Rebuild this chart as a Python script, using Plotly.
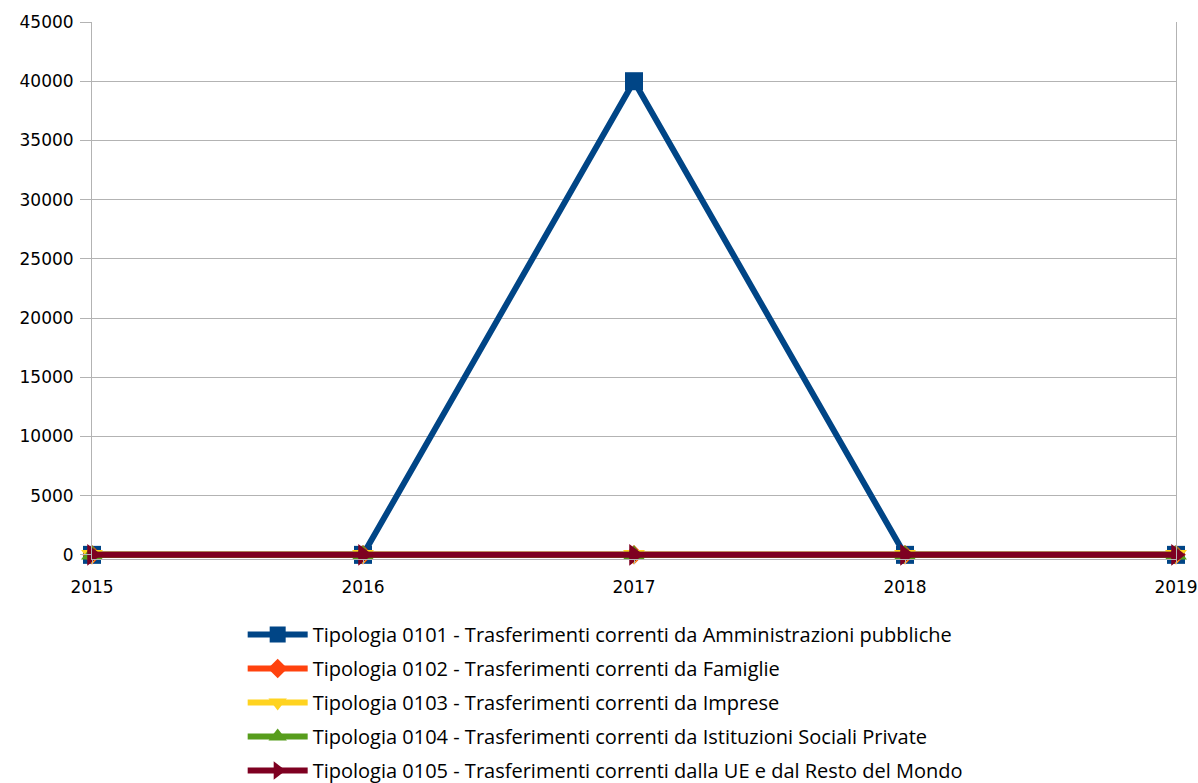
import plotly.graph_objects as go

years = ["2015", "2016", "2017", "2018", "2019"]
series_names = [
    "Tipologia 0101 - Trasferimenti correnti da Amministrazioni pubbliche",
    "Tipologia 0102 - Trasferimenti correnti da Famiglie",
    "Tipologia 0103 - Trasferimenti correnti da Imprese",
    "Tipologia 0104 - Trasferimenti correnti da Istituzioni Sociali Private",
    "Tipologia 0105 - Trasferimenti correnti dalla UE e dal Resto del Mondo",
]
values_0101 = [0, 0, 40000, 0, 0]
values_0102 = [0, 0, 0, 0, 0]
values_0103 = [0, 0, 0, 0, 0]
values_0104 = [0, 0, 0, 0, 0]
values_0105 = [0, 0, 0, 0, 0]
y_ticks = [0, 5000, 10000, 15000, 20000, 25000, 30000, 35000, 40000, 45000]

all_values = [values_0101, values_0102, values_0103, values_0104, values_0105]
colors = ["#004586", "#ff420e", "#ffd320", "#579d1c", "#7e0021"]
symbols = ["square", "diamond", "triangle-down", "triangle-up", "triangle-right"]
msizes = [18, 15, 19, 19, 19]

fig = go.Figure()
for i, (name, vals) in enumerate(zip(series_names, all_values)):
    fig.add_trace(go.Scatter(
        x=list(range(len(years))), y=vals, name=name, mode="lines+markers",
        line=dict(color=colors[i], width=6),
        marker=dict(symbol=symbols[i], size=msizes[i], color=colors[i]),
        legendgroup=f"g{i}", cliponaxis=False,
    ))

fig.update_layout(
    width=1198, height=783,
    margin=dict(l=92, r=22, t=22, b=224, autoexpand=False),
    plot_bgcolor="white", paper_bgcolor="white",
    font=dict(family="DejaVu Sans", size=17, color="#000000"),
    showlegend=True,
    legend=dict(
        x=0.139, y=-0.1043, xanchor="left", yanchor="top",
        font=dict(family="Open Sans", size=20),
        tracegroupgap=5, itemwidth=60,
    ),
    xaxis=dict(
        range=[0, 4], tickvals=list(range(len(years))), ticktext=years,
        showgrid=False, showline=True, linecolor="#b3b3b3", linewidth=1,
        ticks="outside", ticklen=4, tickcolor="#b3b3b3",
        zeroline=False, automargin=False, ticklabelstandoff=9,
        tickfont=dict(family="DejaVu Sans", size=17),
    ),
    yaxis=dict(
        range=[-350, 45000], tickvals=y_ticks, ticktext=[str(v) for v in y_ticks],
        showgrid=True, gridcolor="#b3b3b3", gridwidth=1,
        showline=True, linecolor="#b3b3b3", mirror=True,
        ticks="outside", ticklen=11, tickcolor="#b3b3b3",
        zeroline=False, automargin=False, ticklabelstandoff=3,
        tickfont=dict(family="DejaVu Sans", size=17),
    ),
)

# remove the default 8px page margin so the figure fills the window exactly
fig.write_html(
    "out.html",
    config={"displayModeBar": False},
    post_script="document.body.style.margin='0';document.body.style.overflow='hidden';",
)
